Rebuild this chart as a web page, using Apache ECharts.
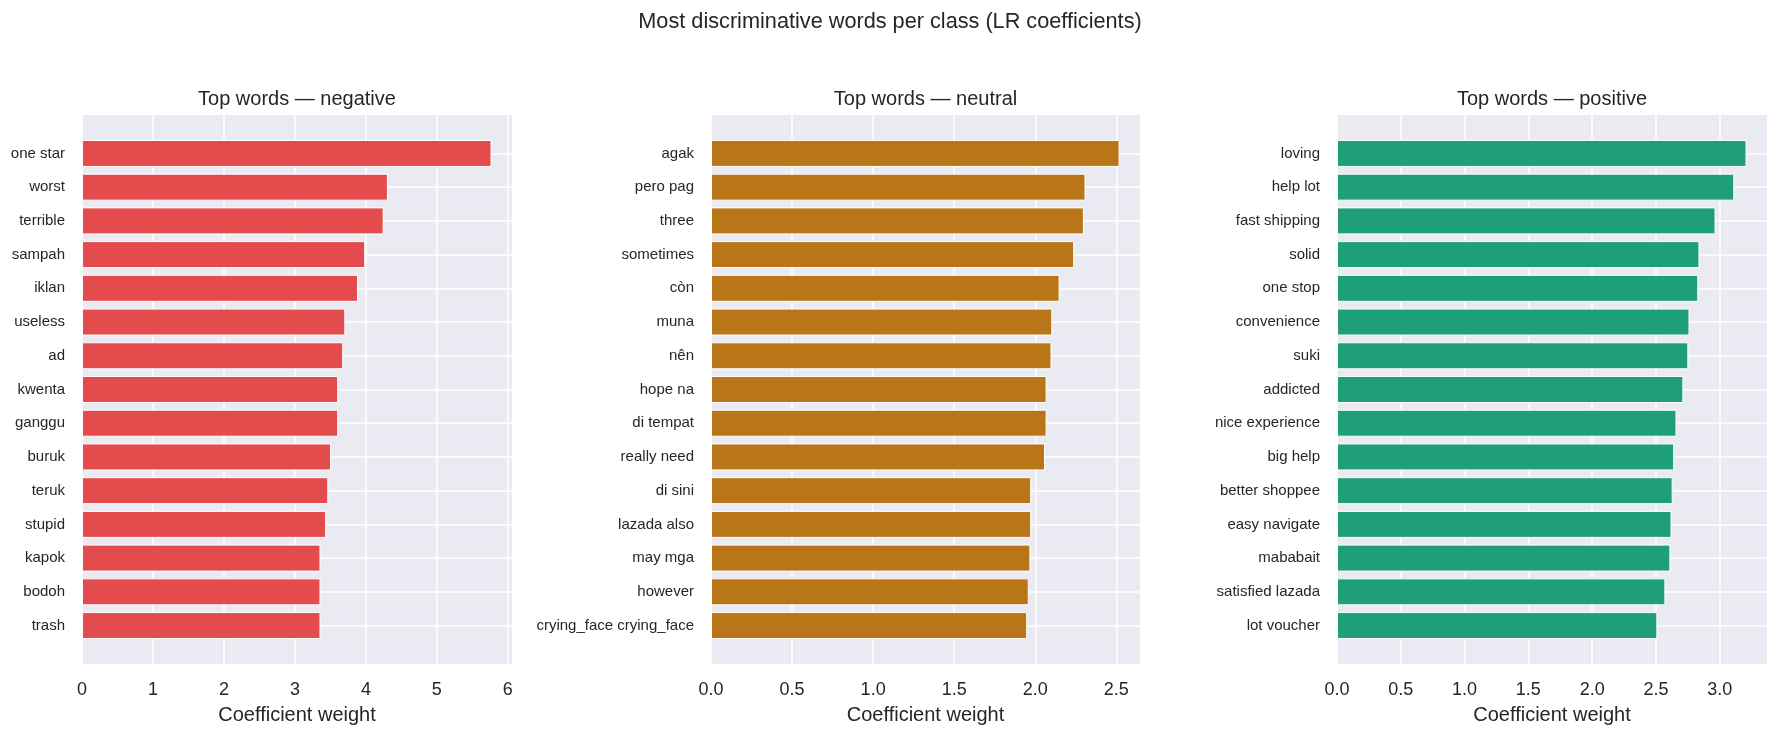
<!DOCTYPE html>
<html><head><meta charset="utf-8">
<script src="https://cdn.jsdelivr.net/npm/echarts@6/dist/echarts.min.js"></script>
<style>html,body{margin:0;padding:0;background:#fff}#c{width:1780px;height:736px}</style>
</head><body><div id="c"></div>
<script>
// ---- data ----
const suptitle = 'Most discriminative words per class (LR coefficients)';
const panelTitles = ['Top words — negative', 'Top words — neutral', 'Top words — positive'];
const xAxisLabel = 'Coefficient weight';

const negWords = ['one star','worst','terrible','sampah','iklan','useless','ad','kwenta','ganggu','buruk','teruk','stupid','kapok','bodoh','trash'];
const negValues = [5.77, 4.31, 4.25, 3.99, 3.89, 3.71, 3.68, 3.61, 3.61, 3.51, 3.47, 3.44, 3.36, 3.36, 3.36];

const neuWords = ['agak','pero pag','three','sometimes','còn','muna','nên','hope na','di tempat','really need','di sini','lazada also','may mga','however','crying_face crying_face'];
const neuValues = [2.52, 2.31, 2.30, 2.24, 2.15, 2.105, 2.10, 2.07, 2.07, 2.06, 1.975, 1.975, 1.97, 1.96, 1.95];

const posWords = ['loving','help lot','fast shipping','solid','one stop','convenience','suki','addicted','nice experience','big help','better shoppee','easy navigate','mababait','satisfied lazada','lot voucher'];
const posValues = [3.21, 3.114, 2.967, 2.841, 2.832, 2.763, 2.754, 2.715, 2.661, 2.643, 2.631, 2.622, 2.613, 2.574, 2.511];

const negTicks = [0, 1, 2, 3, 4, 5, 6];
const neuTicks = [0, 0.5, 1, 1.5, 2, 2.5];
const posTicks = [0, 0.5, 1, 1.5, 2, 2.5, 3];

// ---- layout / style ----
const FONT = "'Liberation Sans', Arial, sans-serif";
const TXT = '#262626';
const W = 1780, H = 736, TOP = 115, BOTTOM = 664;
const panels = [
  {left: 82,   right: 512,  words: negWords, values: negValues, ticks: negTicks, dec: 0, color: '#E34B4C', title: panelTitles[0]},
  {left: 711,  right: 1140, words: neuWords, values: neuValues, ticks: neuTicks, dec: 1, color: '#B97619', title: panelTitles[1]},
  {left: 1337, right: 1767, words: posWords, values: posValues, ticks: posTicks, dec: 1, color: '#1E9F77', title: panelTitles[2]}
];

const grids = [], xAxes = [], yAxes = [], series = [];
const graphics = [{
  type: 'text', x: 890, y: 22,
  style: {text: suptitle, fontSize: 21.7, fontFamily: FONT, fill: TXT, align: 'center', verticalAlign: 'middle'}
}];

panels.forEach((p, i) => {
  const n = p.words.length;
  const span = (n - 1 + 0.8) * 1.1;
  const band = (BOTTOM - TOP) / span;
  const inset = (span - n) / 2 * band;
  const xmax = Math.max(...p.values) * 1.05;
  grids.push({left: p.left, right: W - p.right, top: TOP, bottom: H - BOTTOM,
              show: true, backgroundColor: '#EAEAF2', borderWidth: 0});
  grids.push({left: p.left, right: W - p.right, top: TOP + inset, bottom: H - BOTTOM + inset});
  const g0 = 2 * i, g1 = 2 * i + 1;
  xAxes.push({
    gridIndex: g0, type: 'value', min: 0, max: xmax,
    axisLine: {show: false},
    axisTick: {show: false, customValues: p.ticks},
    axisLabel: {customValues: p.ticks, fontSize: 18, color: TXT, fontFamily: FONT, margin: 17,
                formatter: v => Number(v).toFixed(p.dec)},
    splitLine: {show: true, lineStyle: {color: '#ffffff', width: 1.5}},
    name: xAxisLabel, nameLocation: 'middle', nameGap: 41,
    nameTextStyle: {fontSize: 20, color: TXT, fontFamily: FONT}
  });
  yAxes.push({gridIndex: g0, type: 'value', show: false});
  xAxes.push({gridIndex: g1, type: 'value', min: 0, max: xmax, show: false});
  yAxes.push({
    gridIndex: g1, type: 'category', data: p.words, inverse: true,
    axisLine: {show: false}, axisTick: {show: false},
    axisLabel: {fontSize: 15, color: TXT, fontFamily: FONT, margin: 17},
    splitLine: {show: true, alignWithLabel: true, lineStyle: {color: '#ffffff', width: 1.5}}
  });
  series.push({
    type: 'bar', xAxisIndex: g1, yAxisIndex: g1, data: p.values,
    barCategoryGap: '20%',
    itemStyle: {color: p.color, borderColor: '#ffffff', borderWidth: 1},
    silent: true
  });
  graphics.push({
    type: 'text', x: (p.left + p.right) / 2, y: 99,
    style: {text: p.title, fontSize: 20, fontFamily: FONT, fill: TXT, align: 'center', verticalAlign: 'middle'}
  });
});

const chart = echarts.init(document.getElementById('c'), null, {renderer: 'canvas'});
chart.setOption({
  animation: false,
  backgroundColor: '#ffffff',
  textStyle: {fontFamily: FONT},
  grid: grids, xAxis: xAxes, yAxis: yAxes, series: series,
  graphic: graphics
});
</script></body></html>
